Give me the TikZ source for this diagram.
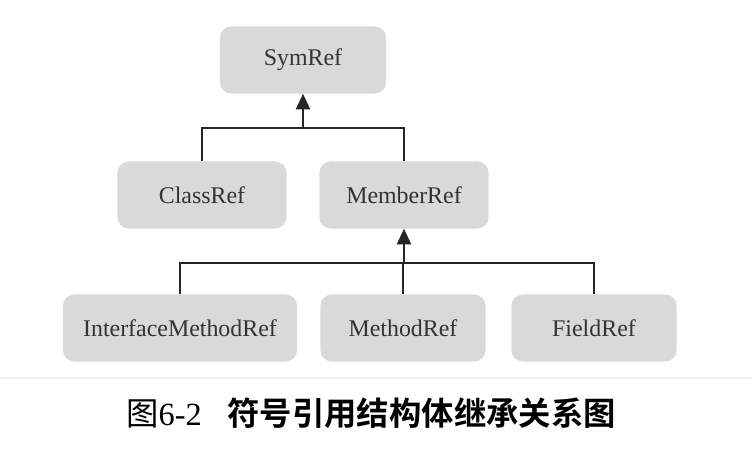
\documentclass[tikz,border=0pt]{standalone}
\usepackage{fontspec}
\setmainfont{Liberation Serif}
\newfontfamily\cjkserif{Noto Sans CJK SC}
\newfontfamily\cjkbold{Noto Sans CJK SC}[BoldFont={* Bold}]
\usetikzlibrary{positioning, arrows.meta, calc}
\definecolor{boxgray}{HTML}{D9D9D9}
\definecolor{txtgray}{HTML}{333333}
\definecolor{rulegray}{HTML}{F0F0F0}

\begin{document}
\begin{tikzpicture}[x=0.025cm, y=-0.025cm,
    refbox/.style={fill=boxgray, rounded corners=8pt, text=txtgray,
      minimum height=1.675cm, font=\fontsize{17}{19}\selectfont},
    link/.style={draw=black!85, line width=1.4pt},
    inherit/.style={link, -{Triangle[length=11pt, width=10pt]}}]
    \useasboundingbox (0,0) rectangle (752,463);

    % class hierarchy boxes
    \node[refbox, minimum width=4.15cm] (sym) at (303,60) {SymRef};
    \node[refbox, minimum width=4.225cm] (cls) at (202,195) {ClassRef};
    \node[refbox, minimum width=4.225cm] (mem) at (404,195) {MemberRef};
    \node[refbox, minimum width=5.85cm] (imr) at (180,328) {InterfaceMethodRef};
    \node[refbox, minimum width=4.125cm] (met) at (403,328) {MethodRef};
    \node[refbox, minimum width=4.125cm] (fld) at (594,328) {FieldRef};

    % inheritance links
    \coordinate (j1) at ($(sym.south)+(0,34)$);
    \coordinate (j2) at ($(mem.south)+(0,34)$);
    \draw[link] (cls.north) |- (j1) -| (mem.north);
    \draw[inherit] (j1) -- (sym.south);
    \draw[link] (imr.north) |- (j2) -| (fld.north);
    \draw[link] (met.north) -- (met.north |- j2);
    \draw[inherit] (j2) -- (mem.south);

    % caption
    \draw[rulegray, line width=1.5pt] (0,378) -- (752,378);
    \node[anchor=west, inner sep=0pt, font=\fontsize{23}{25}\selectfont] (cap) at (126,413)
      {{\cjkserif 图}6-2\hspace{0.8em}{\cjkbold\bfseries 符号引用结构体继承关系图}};
\end{tikzpicture}
\end{document}
